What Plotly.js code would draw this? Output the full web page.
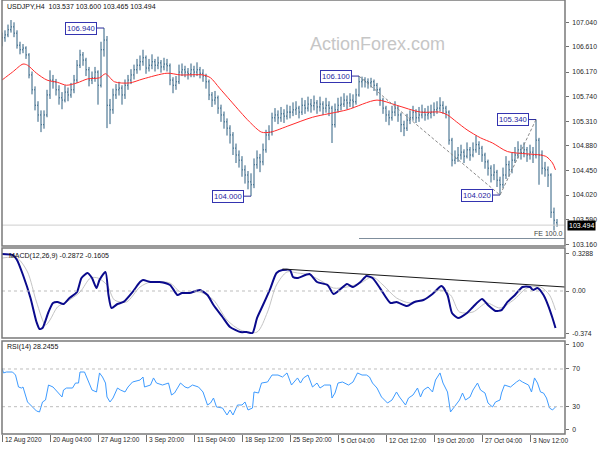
<!DOCTYPE html>
<html><head><meta charset="utf-8">
<script src="https://cdn.plot.ly/plotly-3.0.1.min.js"></script>
<style>html,body{margin:0;padding:0;background:#fff}#chart{width:600px;height:450px}</style>
</head><body><div id="chart"></div>
<script>
// ---- price bars (H4, two bars merged per entry) ----
const open = [106.70,106.77,106.82,106.91,106.96,106.85,106.64,106.56,106.59,106.47,
106.12,105.86,105.59,105.42,105.25,105.42,105.77,106.03,106.00,105.86,
105.72,105.68,105.82,105.77,105.86,106.03,106.29,106.47,106.38,106.21,
106.03,106.07,106.17,105.94,106.56,106.73,105.59,105.51,105.77,105.86,
105.89,105.77,105.94,106.03,106.12,106.21,106.29,106.35,106.42,106.24,
106.29,106.35,106.29,106.33,106.26,106.31,106.28,106.03,105.94,106.00,
106.17,106.21,106.17,106.14,106.21,106.17,106.21,106.15,106.10,106.00,
105.77,105.68,105.72,105.54,105.42,105.30,105.19,105.07,104.84,104.72,
104.63,104.46,104.37,104.25,104.20,104.55,104.67,104.60,104.81,105.07,
105.12,105.37,105.42,105.37,105.44,105.40,105.47,105.47,105.51,105.54,
105.47,105.59,105.54,105.61,105.58,105.63,105.56,105.61,105.54,105.59,
105.54,105.25,105.51,105.59,105.61,105.68,105.63,105.68,105.65,105.77,
106.00,106.03,106.00,105.98,106.00,105.94,105.86,105.68,105.54,105.42,
105.37,105.47,105.54,105.42,105.25,105.19,105.33,105.37,105.47,105.37,
105.42,105.47,105.42,105.45,105.47,105.51,105.54,105.59,105.54,105.47,
104.98,104.63,104.67,104.72,104.77,104.70,104.81,104.72,104.81,104.90,
104.84,104.72,104.60,104.49,104.37,104.42,104.28,104.20,104.37,104.55,
104.46,104.63,104.72,104.81,104.76,104.81,104.72,104.77,104.72,104.98,
104.72,104.49,104.46,104.37,103.72,103.537];
const high = [106.86,106.90,107.00,107.08,107.04,106.90,106.70,106.66,106.62,106.50,
106.18,105.92,105.66,105.50,105.50,105.86,106.20,106.12,106.05,105.94,
105.82,105.94,105.90,105.98,106.12,106.38,106.56,106.52,106.42,106.26,
106.18,106.26,106.20,106.70,106.94,106.80,105.70,105.88,105.96,106.00,
105.94,106.04,106.12,106.22,106.30,106.40,106.46,106.56,106.46,106.40,
106.48,106.40,106.44,106.38,106.42,106.40,106.32,106.08,106.10,106.30,
106.32,106.28,106.24,106.32,106.28,106.34,106.26,106.22,106.14,106.04,
105.82,105.84,105.76,105.60,105.48,105.36,105.24,105.12,104.92,104.80,
104.70,104.54,104.44,104.40,104.66,104.80,104.74,104.92,105.16,105.24,
105.46,105.54,105.50,105.56,105.52,105.60,105.58,105.64,105.66,105.58,
105.72,105.68,105.74,105.70,105.76,105.68,105.74,105.66,105.72,105.66,
105.58,105.62,105.72,105.74,105.80,105.76,105.80,105.78,105.88,106.10,
106.09,106.08,106.06,106.07,106.04,105.98,105.90,105.72,105.58,105.50,
105.58,105.66,105.58,105.46,105.32,105.44,105.50,105.58,105.52,105.56,
105.60,105.54,105.58,105.60,105.64,105.66,105.73,105.66,105.58,105.50,
105.02,104.80,104.86,104.90,104.82,104.94,104.86,104.94,105.06,104.96,
104.88,104.76,104.64,104.54,104.56,104.46,104.34,104.50,104.70,104.62,
104.76,104.86,104.96,104.90,104.94,104.86,104.90,104.86,105.34,105.02,
104.80,104.60,104.52,104.40,103.80,103.600];
const low = [106.62,106.70,106.78,106.86,106.78,106.58,106.48,106.50,106.40,106.06,
105.78,105.50,105.30,105.12,105.18,105.38,105.70,105.88,105.76,105.60,
105.52,105.64,105.66,105.72,105.80,105.98,106.24,106.28,106.10,105.92,
105.96,106.00,105.60,105.90,106.44,105.19,105.26,105.44,105.70,105.76,
105.60,105.70,105.86,105.96,106.04,106.14,106.20,106.28,106.14,106.18,
106.22,106.18,106.22,106.16,106.20,106.18,105.94,105.80,105.86,105.96,
106.10,106.08,106.04,106.08,106.08,106.10,106.06,106.00,105.88,105.68,
105.56,105.60,105.44,105.30,105.18,105.06,104.92,104.72,104.58,104.50,
104.34,104.22,104.12,104.00,104.14,104.48,104.42,104.54,104.76,104.98,
105.06,105.30,105.26,105.30,105.28,105.34,105.36,105.40,105.42,105.36,
105.42,105.44,105.48,105.46,105.50,105.44,105.48,105.42,105.46,105.40,
104.93,105.20,105.46,105.50,105.56,105.52,105.56,105.54,105.60,105.74,
105.90,105.90,105.88,105.90,105.84,105.76,105.58,105.44,105.30,105.24,
105.32,105.40,105.30,105.12,105.05,105.14,105.26,105.32,105.28,105.30,
105.36,105.32,105.34,105.36,105.40,105.44,105.48,105.44,105.36,104.90,
104.52,104.56,104.60,104.64,104.58,104.66,104.62,104.68,104.76,104.72,
104.60,104.48,104.36,104.24,104.28,104.16,104.02,104.14,104.30,104.34,
104.40,104.58,104.66,104.64,104.68,104.60,104.64,104.58,104.66,104.20,
104.38,104.34,104.16,103.62,103.40,103.465];
const close = [106.77,106.82,106.91,106.96,106.85,106.64,106.56,106.59,106.47,106.12,
105.86,105.59,105.42,105.25,105.42,105.77,106.03,106.00,105.86,105.72,
105.68,105.82,105.77,105.86,106.03,106.29,106.47,106.38,106.21,106.03,
106.07,106.17,105.94,106.56,106.73,105.59,105.51,105.77,105.86,105.89,
105.77,105.94,106.03,106.12,106.21,106.29,106.35,106.42,106.24,106.29,
106.35,106.29,106.33,106.26,106.31,106.28,106.03,105.94,106.00,106.17,
106.21,106.17,106.14,106.21,106.17,106.21,106.15,106.10,106.00,105.77,
105.68,105.72,105.54,105.42,105.30,105.19,105.07,104.84,104.72,104.63,
104.46,104.37,104.25,104.20,104.55,104.67,104.60,104.81,105.07,105.12,
105.37,105.42,105.37,105.44,105.40,105.47,105.47,105.51,105.54,105.47,
105.59,105.54,105.61,105.58,105.63,105.56,105.61,105.54,105.59,105.54,
105.25,105.51,105.59,105.61,105.68,105.63,105.68,105.65,105.77,106.00,
106.03,106.00,105.98,106.00,105.94,105.86,105.68,105.54,105.42,105.37,
105.47,105.54,105.42,105.25,105.19,105.33,105.37,105.47,105.37,105.42,
105.47,105.42,105.45,105.47,105.51,105.54,105.59,105.54,105.47,104.98,
104.63,104.67,104.72,104.77,104.70,104.81,104.72,104.81,104.90,104.84,
104.72,104.60,104.49,104.37,104.42,104.28,104.20,104.37,104.55,104.46,
104.63,104.72,104.81,104.76,104.81,104.72,104.77,104.72,104.98,104.72,
104.49,104.46,104.37,103.72,103.58,103.494];

// ---- moving average (red) ----
const maBar = [0,7,14,17,23,30,37,43,50,57,65,69,75,85,94,110,119,134,139,145,152,159,165,173,179,192,207,230,250,263,279,292,297,303,310,319,327,337,350,359,363,367,369];
const maVal = [106.03,106.17,106.31,106.29,106.15,106.03,105.99,105.94,105.98,106.05,106.07,106.14,106.00,105.98,106.05,106.15,106.12,106.12,106.07,105.89,105.68,105.47,105.30,105.12,105.12,105.24,105.38,105.51,105.68,105.59,105.47,105.47,105.42,105.30,105.16,105.02,104.93,104.78,104.74,104.72,104.69,104.58,104.46];

// ---- swing labels / Fibonacci expansion ----
const swingText = ['106.940','104.000','106.100','105.340','104.020'];
const swingBar = [68,166,238,356,332];
const swingPrice = [106.94,104.00,106.10,105.34,104.02];
const fiboBar = [238,332,356];
const fiboPrice = [106.10,104.02,105.34];
const feLevel = 103.26;
const lastPrice = 103.494;

// ---- MACD(12,26,9) ----
const macdBar = [0,7,10,14,19,23,25,27,31,34,37,41,45,50,53,57,60,63,65,69,71,73,77,81,87,92,94,99,105,112,117,120,125,132,137,141,147,152,159,163,167,170,174,179,183,187,192,194,197,205,210,217,221,225,230,234,239,243,247,252,259,263,270,275,281,287,293,297,300,304,310,314,320,324,329,333,337,342,347,352,354,357,361,364,367,369];
const macdVal = [0.325,0.316,0.272,0.140,-0.061,-0.272,-0.333,-0.325,-0.184,-0.105,-0.096,-0.114,-0.061,-0.009,0.114,0.158,0.114,0.026,0.096,0.167,-0.035,-0.149,-0.114,-0.096,-0.009,0.079,0.096,0.079,0.079,0.053,-0.035,-0.018,-0.018,0.009,-0.035,-0.123,-0.228,-0.316,-0.360,-0.360,-0.368,-0.237,-0.123,0.026,0.158,0.184,0.184,0.123,0.114,0.149,0.079,0.053,-0.026,0.009,0.061,0.035,0.079,0.132,0.114,0.026,-0.105,-0.096,-0.132,-0.096,-0.079,-0.026,0.044,-0.035,-0.193,-0.237,-0.193,-0.140,-0.070,-0.123,-0.175,-0.167,-0.096,-0.035,0.035,0.035,0.009,0.026,-0.035,-0.123,-0.237,-0.325];
const sigBar = [0,10,17,23,29,32,37,43,52,59,64,70,75,83,92,99,112,119,132,141,150,159,170,177,183,190,197,205,214,221,230,239,247,254,263,272,283,292,299,305,314,323,332,341,350,359,365,369];
const sigVal = [0.289,0.289,0.167,-0.096,-0.298,-0.254,-0.140,-0.096,-0.009,0.114,0.114,0.053,-0.079,-0.096,0.035,0.079,0.070,-0.009,-0.009,-0.079,-0.254,-0.342,-0.360,-0.184,0.053,0.167,0.158,0.140,0.079,0.026,0.035,0.070,0.123,0.053,-0.061,-0.105,-0.061,0.009,-0.035,-0.184,-0.184,-0.105,-0.149,-0.079,0.026,0.035,-0.035,-0.167];
const macdTrendBar = [187,375.3];
const macdTrendVal = [0.193,0.035];

// ---- RSI(14) ----
const rsiBar = [0,1,3,7,9,11,13,14,17,19,21,23,25,27,29,31,34,37,40,41,43,47,49,51,52,55,57,60,63,65,67,69,70,72,74,77,79,82,84,87,92,94,95,99,101,103,107,111,113,115,119,122,124,127,131,134,137,139,141,143,147,150,152,154,157,160,162,164,167,168,171,173,177,180,184,187,190,193,197,199,201,204,207,210,212,215,219,220,222,224,227,231,234,237,240,243,245,247,250,253,257,260,263,265,269,271,274,277,279,281,284,287,289,292,294,297,299,301,303,305,307,309,312,314,317,319,322,324,327,329,332,333,335,339,343,345,347,351,353,355,357,359,361,363,365,367,369];
const rsiVal = [71.1,65.8,66.8,66.8,63.6,50.9,49.8,50.9,35.0,31.8,28.6,25.4,24.4,35.0,37.1,53.0,50.9,45.6,40.3,47.7,49.8,49.8,55.1,55.1,66.8,66.8,58.3,47.7,45.6,65.8,61.5,55.1,40.3,35.0,39.2,49.8,47.7,45.6,50.9,56.2,58.3,61.5,50.9,53.0,60.5,55.1,53.0,55.1,42.4,44.5,55.1,50.9,49.8,53.0,50.9,45.6,31.8,33.9,39.2,29.7,28.6,21.2,26.5,21.2,31.8,31.8,35.0,26.5,28.6,45.6,44.5,55.1,56.2,63.6,63.6,61.5,65.8,53.0,60.5,55.1,60.5,63.6,50.9,55.1,49.8,53.0,53.0,39.2,44.5,55.1,56.2,53.0,56.2,65.8,63.6,63.6,61.5,55.1,49.8,40.3,33.9,37.1,45.6,40.3,31.8,39.2,42.4,49.8,40.3,47.7,50.9,45.6,58.3,65.8,55.1,45.6,24.4,28.6,33.9,37.1,44.5,37.1,40.3,47.7,55.1,47.7,44.5,33.9,29.7,35.0,37.1,44.5,53.0,50.9,56.2,58.3,56.2,53.0,45.6,60.5,55.1,45.6,44.5,39.2,28.6,26.5,29.7];

// ---- axis labels ----
const timeTickBar = [0,32,64,96,128,160,192,224,256,288,320,352];
const timeTickText = ['12 Aug 2020','20 Aug 04:00','27 Aug 12:00','3 Sep 20:00','11 Sep 04:00','18 Sep 12:00','25 Sep 20:00','5 Oct 04:00','12 Oct 12:00','19 Oct 20:00','27 Oct 04:00','3 Nov 12:00'];
const priceTicks = [107.04,106.61,106.17,105.74,105.31,104.88,104.45,104.02,103.59,103.16];
const macdTicks = [0.3288,0,-0.374];
const macdTickText = ['0.3288','0.00','-0.374'];
const rsiTickPos = [96,70,30,6];
const rsiTickText = ['100','70','30','0'];

// ================= drawing =================
const FONT = 'Liberation Sans, Arial, sans-serif';
const BAR = '#2c5f80';
const barX = close.map((_, i) => i * 2);
const XMAX = 375.33;
const H = 434; // plot area height (px)
const pf = px => (H - px) / H; // paper fraction from pixel row
const mainDom = [pf(246), 1], macdDom = [pf(338), pf(248)], rsiDom = [0, pf(341)];

const traces = [
  {type:'ohlc', x:barX, open, high, low, close, xaxis:'x', yaxis:'y',
   increasing:{line:{color:BAR, width:1}}, decreasing:{line:{color:BAR, width:1}},
   tickwidth:0.3, hoverinfo:'skip', showlegend:false},
  {type:'scatter', mode:'lines', x:maBar, y:maVal, xaxis:'x', yaxis:'y',
   line:{color:'#ff2a2a', width:1, shape:'spline', smoothing:0.8}, hoverinfo:'skip'},
  {type:'scatter', mode:'lines', x:fiboBar, y:fiboPrice, xaxis:'x', yaxis:'y',
   line:{color:'#8a8a8a', width:1, dash:'3px,2px'}, hoverinfo:'skip'},
  {type:'scatter', mode:'lines', x:sigBar, y:sigVal, xaxis:'x', yaxis:'y2',
   line:{color:'#c4c4c4', width:1, shape:'spline', smoothing:0.8}, hoverinfo:'skip'},
  {type:'scatter', mode:'lines', x:macdBar, y:macdVal, xaxis:'x', yaxis:'y2',
   line:{color:'#0a0a8c', width:2, shape:'spline', smoothing:0.6}, hoverinfo:'skip'},
  {type:'scatter', mode:'lines', x:macdTrendBar, y:macdTrendVal, xaxis:'x', yaxis:'y2',
   line:{color:'#1a1a1a', width:1}, hoverinfo:'skip'},
  {type:'scatter', mode:'lines', x:rsiBar, y:rsiVal, xaxis:'x', yaxis:'y3',
   line:{color:'#3d9bff', width:1}, hoverinfo:'skip'}
];

const yCommon = {side:'right', anchor:'x', ticks:'outside', ticklen:3, tickcolor:'#707070',
  showgrid:false, zeroline:false, showline:false, tickfont:{family:FONT, size:6.8, color:'#1e1e1e'},
  fixedrange:true, ticklabelstandoff:2};

const shapes = [
  {type:'line', xref:'paper', x0:0, x1:1, yref:'y', y0:lastPrice, y1:lastPrice, line:{color:'#cfcfcf', width:1}},
  {type:'line', xref:'x', x0:fiboBar[0], x1:XMAX, yref:'y', y0:feLevel, y1:feLevel, line:{color:'#7f8e9c', width:1}},
  {type:'line', xref:'paper', x0:0, x1:1, yref:'y2', y0:0, y1:0, line:{color:'#bdbdbd', width:1, dash:'3px,3px'}},
  {type:'line', xref:'paper', x0:0, x1:1, yref:'y3', y0:70, y1:70, line:{color:'#bdbdbd', width:1, dash:'3px,3px'}},
  {type:'line', xref:'paper', x0:0, x1:1, yref:'y3', y0:30, y1:30, line:{color:'#bdbdbd', width:1, dash:'3px,3px'}},
  {type:'rect', xref:'paper', yref:'paper', x0:0, x1:1, y0:mainDom[0], y1:mainDom[1], line:{color:'#7a7a7a', width:1.5}},
  {type:'rect', xref:'paper', yref:'paper', x0:0, x1:1, y0:macdDom[0], y1:macdDom[1], line:{color:'#7a7a7a', width:1.5}},
  {type:'rect', xref:'paper', yref:'paper', x0:0, x1:1, y0:rsiDom[0], y1:rsiDom[1], line:{color:'#7a7a7a', width:1.5}}
];
const GAP = 7 / 1.5; // connector length in bar units
swingBar.forEach((b, i) => {
  shapes.push({type:'line', xref:'x', yref:'y', x0:b - GAP, x1:b, y0:swingPrice[i], y1:swingPrice[i],
    line:{color:'#2a2a9a', width:1}});
});

const annotations = [
  {xref:'paper', yref:'paper', x:(5-2)/563, y:pf(7), xanchor:'left', yanchor:'middle', showarrow:false,
   text:'USDJPY,H4\u00a0\u00a0103.537 103.600 103.465 103.494', font:{family:FONT, size:7, color:'#111'}},
  {xref:'paper', yref:'paper', x:(377-2)/563, y:pf(44), xanchor:'center', yanchor:'middle', showarrow:false,
   text:'ActionForex.com', font:{family:FONT, size:18, color:'#c6c6c6'}},
  {xref:'paper', yref:'paper', x:(7-2)/563, y:pf(256), xanchor:'left', yanchor:'middle', showarrow:false,
   text:'MACD(12,26,9) -0.2872 -0.1605', font:{family:FONT, size:7, color:'#111'}},
  {xref:'paper', yref:'paper', x:(5-2)/563, y:pf(347), xanchor:'left', yanchor:'middle', showarrow:false,
   text:'RSI(14) 28.2455', font:{family:FONT, size:7, color:'#111'}},
  {xref:'paper', yref:'y', x:1, y:feLevel, xanchor:'right', yanchor:'bottom', showarrow:false,
   text:'FE 100.0', font:{family:FONT, size:7, color:'#444'}},
  {xref:'paper', yref:'y', x:(567-2)/563, y:lastPrice, xanchor:'left', yanchor:'middle', showarrow:false,
   text:lastPrice.toFixed(3), bgcolor:'#000', borderpad:1, font:{family:FONT, size:7, color:'#fff'}}
];
swingBar.forEach((b, i) => {
  annotations.push({xref:'x', yref:'y', x:b, y:swingPrice[i], xanchor:'right', yanchor:'middle', xshift:-7,
    showarrow:false, text:swingText[i], bgcolor:'#fff', bordercolor:'#3434b0', borderwidth:1, borderpad:1,
    font:{family:FONT, size:7.7, color:'#2424a0'}});
});
timeTickBar.forEach((b, i) => {
  annotations.push({xref:'x', yref:'paper', x:b, y:pf(440), xanchor:'left', yanchor:'middle', xshift:1,
    showarrow:false, text:timeTickText[i], font:{family:FONT, size:6.5, color:'#1e1e1e'}});
});

const layout = {
  width:600, height:450, margin:{l:2, r:35, t:0, b:16},
  paper_bgcolor:'#fff', plot_bgcolor:'#fff', showlegend:false, dragmode:false,
  xaxis:{range:[0, XMAX], anchor:'y3', tickvals:timeTickBar, ticks:'outside', ticklen:7, tickcolor:'#707070',
    showticklabels:false, showgrid:false, zeroline:false, showline:false, rangeslider:{visible:false}, fixedrange:true},
  yaxis:Object.assign({}, yCommon, {domain:mainDom, range:[103.129, 107.43], tickvals:priceTicks,
    ticktext:priceTicks.map(v => v.toFixed(3))}),
  yaxis2:Object.assign({}, yCommon, {domain:macdDom, range:[-0.412, 0.377], tickvals:macdTicks, ticktext:macdTickText}),
  yaxis3:Object.assign({}, yCommon, {domain:rsiDom, range:[1.03, 99.7], tickvals:rsiTickPos, ticktext:rsiTickText}),
  shapes, annotations
};
Plotly.newPlot('chart', traces, layout, {staticPlot:true, displayModeBar:false});
</script>
</body></html>
